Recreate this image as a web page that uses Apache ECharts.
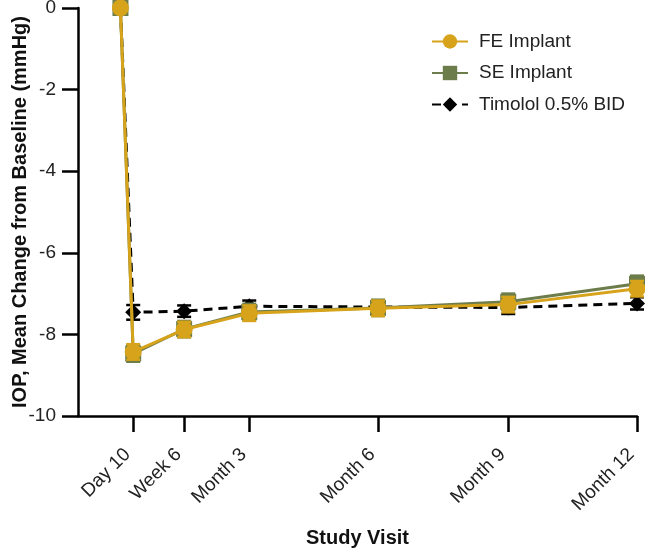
<!DOCTYPE html>
<html>
<head>
<meta charset="utf-8">
<script src="https://cdn.jsdelivr.net/npm/echarts@6/dist/echarts.min.js"></script>
<style>html,body{margin:0;padding:0;background:#fff;}#c{width:645px;height:550px;}</style>
</head>
<body>
<div id="c"></div>
<script>
// Visit positions (study day) and labels
const visitDays = [0, 9, 45, 91, 182, 274, 365];
const tickDays = [9, 45, 91, 182, 274, 365];
const tickLabels = ['Day 10', 'Week 6', 'Month 3', 'Month 6', 'Month 9', 'Month 12'];
const seriesNames = ['FE Implant', 'SE Implant', 'Timolol 0.5% BID'];
// Mean change from baseline (mmHg)
const feValues = [0, -8.43, -7.88, -7.48, -7.36, -7.27, -6.88];
const seValues = [0, -8.47, -7.87, -7.45, -7.35, -7.20, -6.76];
const timValues = [0, -7.46, -7.43, -7.31, -7.33, -7.34, -7.24];
// Standard errors
const feSem = [0, 0.19, 0.19, 0.19, 0.19, 0.19, 0.19];
const seSem = [0, 0.20, 0.20, 0.20, 0.20, 0.20, 0.20];
const timSem = [0, 0.18, 0.14, 0.14, 0.15, 0.16, 0.15];

const colors = ['#D6A31A', '#6C7D4B', '#000000'];

function pts(vals) { return visitDays.map((d, i) => [d, vals[i]]); }
function errData(vals, sem) {
  const out = [];
  visitDays.forEach((d, i) => { if (sem[i] > 0) out.push([d, vals[i] - sem[i], vals[i] + sem[i]]); });
  return out;
}
function errSeries(vals, sem, color, z) {
  return {
    type: 'custom', z: z, silent: true,
    data: errData(vals, sem),
    encode: { x: 0, y: [1, 2] },
    renderItem: function (params, api) {
      const x = api.value(0);
      const lo = api.coord([x, api.value(1)]);
      const hi = api.coord([x, api.value(2)]);
      const hw = 7;
      const st = { stroke: color, lineWidth: 2.5 };
      return {
        type: 'group', children: [
          { type: 'line', shape: { x1: lo[0], y1: lo[1], x2: hi[0], y2: hi[1] }, style: st },
          { type: 'line', shape: { x1: lo[0] - hw, y1: lo[1], x2: lo[0] + hw, y2: lo[1] }, style: st },
          { type: 'line', shape: { x1: hi[0] - hw, y1: hi[1], x2: hi[0] + hw, y2: hi[1] }, style: st }
        ]
      };
    }
  };
}

const labelMap = {};
tickDays.forEach((d, i) => labelMap[d] = tickLabels[i]);

const chart = echarts.init(document.getElementById('c'));
chart.setOption({
  animation: false,
  textStyle: { fontFamily: 'Liberation Sans, Arial, sans-serif' },
  grid: { left: 78, right: 8, top: 8, bottom: 134, containLabel: false, outerBoundsMode: 'none' },
  legend: {
    data: seriesNames,
    orient: 'vertical',
    left: 426, top: 27,
    itemWidth: 36, itemHeight: 18, itemGap: 12.5,
    textStyle: { fontSize: 19, color: '#222', padding: [0, 0, 0, 6] }
  },
  xAxis: {
    type: 'value', min: -30, max: 365,
    name: 'Study Visit', nameLocation: 'middle', nameGap: 112, nameMoveOverlap: false,
    nameTextStyle: { fontSize: 20, fontWeight: 'bold', color: '#111' },
    axisLine: { show: true, onZero: false, lineStyle: { color: '#000', width: 2.5 } },
    axisTick: { show: true, length: 16, lineStyle: { color: '#000', width: 2.5 }, customValues: tickDays },
    axisLabel: {
      customValues: tickDays, rotate: 45, margin: 30, fontSize: 19, color: '#222',
      padding: [0, 8, 0, 0],
      formatter: v => labelMap[v] || ''
    },
    splitLine: { show: false }
  },
  yAxis: {
    type: 'value', min: -10, max: 0, interval: 2,
    name: 'IOP, Mean Change from Baseline (mmHg)', nameLocation: 'middle', nameGap: 48, nameMoveOverlap: false,
    nameTextStyle: { fontSize: 20, fontWeight: 'bold', color: '#111' },
    axisLine: { show: true, onZero: false, lineStyle: { color: '#000', width: 2.5 } },
    axisTick: { show: true, length: 16, lineStyle: { color: '#000', width: 2.5 } },
    axisLabel: { margin: 22, fontSize: 19, color: '#222', formatter: v => String(v) },
    splitLine: { show: false }
  },
  series: [
    errSeries(timValues, timSem, '#000', 2),
    {
      name: seriesNames[2], type: 'line', z: 3, data: pts(timValues),
      symbol: 'diamond', symbolSize: 16, showAllSymbol: true,
      itemStyle: { color: '#000' },
      lineStyle: { color: '#000', width: 3, type: [9, 6] }
    },
    errSeries(seValues, seSem, colors[1], 4),
    {
      name: seriesNames[1], type: 'line', z: 5, data: pts(seValues),
      symbol: 'rect', symbolSize: 16, showAllSymbol: true,
      itemStyle: { color: colors[1] },
      lineStyle: { color: colors[1], width: 3 }
    },
    errSeries(feValues, feSem, colors[0], 6),
    {
      name: seriesNames[0], type: 'line', z: 7, data: pts(feValues),
      symbol: 'circle', symbolSize: 17, showAllSymbol: true,
      itemStyle: { color: colors[0] },
      lineStyle: { color: colors[0], width: 3 }
    }
  ]
});
</script>
</body>
</html>
